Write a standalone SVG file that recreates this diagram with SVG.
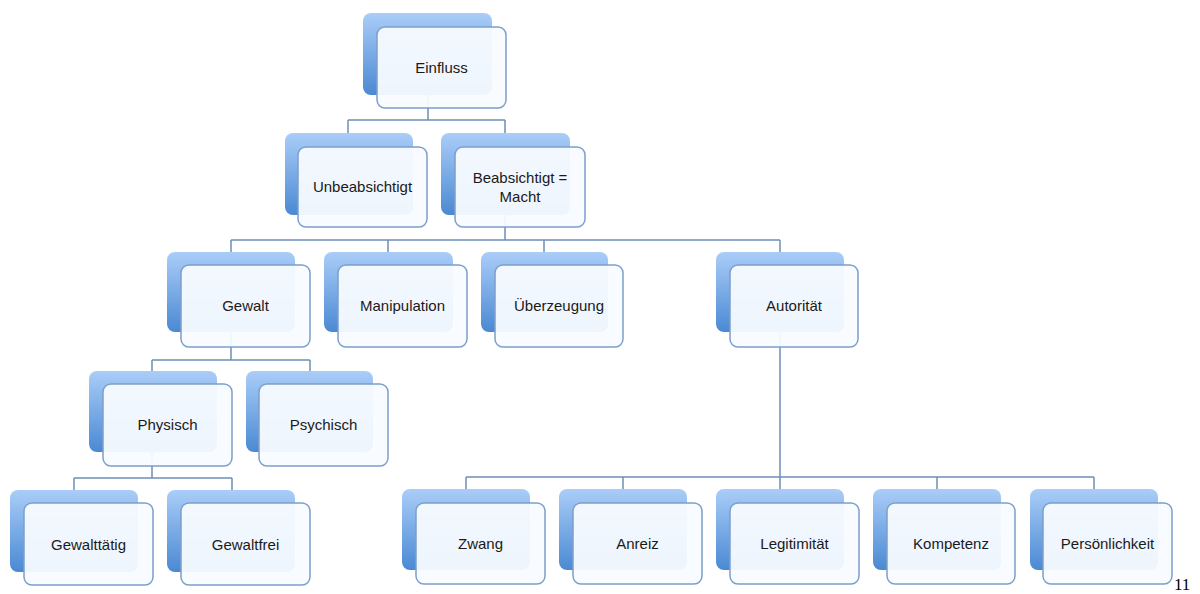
<svg xmlns="http://www.w3.org/2000/svg" width="1200" height="594" viewBox="0 0 1200 594">
<style>
.back{fill:url(#bg)}
.front{fill:#f8fbff;fill-opacity:0.95;stroke:#7c9fcb;stroke-width:1.5}
.lbl{font-family:"Liberation Sans",Arial,sans-serif;font-size:15px;fill:#1a1a1a;text-anchor:middle}
.con{fill:none;stroke:#6f8fb8;stroke-width:1.5}
</style>
<defs>
<linearGradient id="bg" x1="0" y1="0" x2="0" y2="1">
<stop offset="0" stop-color="#aacdf8"/>
<stop offset="1" stop-color="#4a89d3"/>
</linearGradient>
</defs>
<rect width="1200" height="594" fill="#fff"/>
<g id="connectors">
<path class="con" d="M428,95V120M348,120H505M348,120V133M505,120V133"/>
<path class="con" d="M505,215V240M231,240H780M231,240V252M388,240V252M544,240V252M780,240V252"/>
<path class="con" d="M231,332V360M152,360H310M152,360V371M310,360V371"/>
<path class="con" d="M152,452V478M74,478H232M74,478V490M232,478V490"/>
<path class="con" d="M780,332V477M466,477H1094M466,477V489M623,477V489M780,477V489M937,477V489M1094,477V489"/>
</g>
<g id="n-einfluss"><rect class="back" x="363" y="13" width="129" height="82" rx="8"/><rect class="front" x="377" y="27" width="129" height="81" rx="8"/><text class="lbl" x="441.5" y="73">Einfluss</text></g>
<g id="n-unbeabsichtigt"><rect class="back" x="285" y="133" width="128" height="82" rx="8"/><rect class="front" x="298" y="147" width="129" height="80" rx="8"/><text class="lbl" x="362.5" y="192">Unbeabsichtigt</text></g>
<g id="n-beabsichtigt"><rect class="back" x="441" y="133" width="129" height="82" rx="8"/><rect class="front" x="455" y="147" width="130" height="80" rx="8"/><text class="lbl" x="520" y="183">Beabsichtigt =</text><text class="lbl" x="520" y="202">Macht</text></g>
<g id="n-gewalt"><rect class="back" x="167" y="252" width="128" height="80" rx="8"/><rect class="front" x="181" y="265" width="129" height="82" rx="8"/><text class="lbl" x="245.5" y="311">Gewalt</text></g>
<g id="n-manipulation"><rect class="back" x="324" y="252" width="129" height="80" rx="8"/><rect class="front" x="338" y="265" width="129" height="82" rx="8"/><text class="lbl" x="402.5" y="311">Manipulation</text></g>
<g id="n-ueberzeugung"><rect class="back" x="481" y="252" width="127" height="80" rx="8"/><rect class="front" x="495" y="265" width="128" height="82" rx="8"/><text class="lbl" x="559" y="311">Überzeugung</text></g>
<g id="n-autoritaet"><rect class="back" x="716" y="252" width="128" height="80" rx="8"/><rect class="front" x="730" y="265" width="128" height="82" rx="8"/><text class="lbl" x="794" y="311">Autorität</text></g>
<g id="n-physisch"><rect class="back" x="89" y="371" width="128" height="81" rx="8"/><rect class="front" x="103" y="384" width="129" height="82" rx="8"/><text class="lbl" x="167.5" y="430">Physisch</text></g>
<g id="n-psychisch"><rect class="back" x="246" y="371" width="127" height="81" rx="8"/><rect class="front" x="259" y="384" width="129" height="82" rx="8"/><text class="lbl" x="323.5" y="430">Psychisch</text></g>
<g id="n-gewalttaetig"><rect class="back" x="10" y="490" width="128" height="82" rx="8"/><rect class="front" x="24" y="503" width="129" height="82" rx="8"/><text class="lbl" x="88.5" y="550">Gewalttätig</text></g>
<g id="n-gewaltfrei"><rect class="back" x="167" y="490" width="128" height="82" rx="8"/><rect class="front" x="181" y="503" width="129" height="82" rx="8"/><text class="lbl" x="245.5" y="550">Gewaltfrei</text></g>
<g id="n-zwang"><rect class="back" x="402" y="489" width="128" height="81" rx="8"/><rect class="front" x="416" y="503" width="129" height="81" rx="8"/><text class="lbl" x="480.5" y="549">Zwang</text></g>
<g id="n-anreiz"><rect class="back" x="559" y="489" width="128" height="81" rx="8"/><rect class="front" x="573" y="503" width="129" height="81" rx="8"/><text class="lbl" x="637.5" y="549">Anreiz</text></g>
<g id="n-legitimitaet"><rect class="back" x="716" y="489" width="128" height="81" rx="8"/><rect class="front" x="730" y="503" width="129" height="81" rx="8"/><text class="lbl" x="794.5" y="549">Legitimität</text></g>
<g id="n-kompetenz"><rect class="back" x="873" y="489" width="128" height="81" rx="8"/><rect class="front" x="887" y="503" width="128" height="81" rx="8"/><text class="lbl" x="951" y="549">Kompetenz</text></g>
<g id="n-persoenlichkeit"><rect class="back" x="1030" y="489" width="128" height="81" rx="8"/><rect class="front" x="1043" y="503" width="129" height="81" rx="8"/><text class="lbl" x="1107.5" y="549">Persönlichkeit</text></g>
<text x="1174" y="590" font-family="Liberation Serif,serif" font-size="17" fill="#000">11</text>
</svg>
